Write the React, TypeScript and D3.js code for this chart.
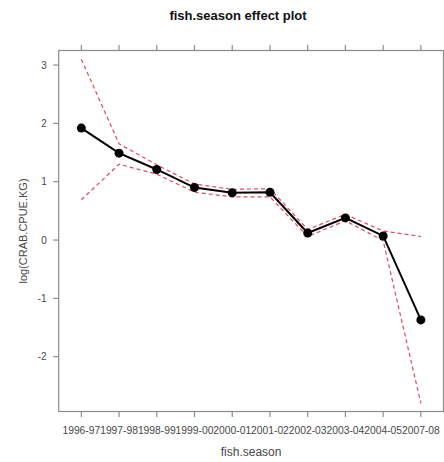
import { useEffect, useRef } from 'react'
import * as d3 from 'd3'

const seasons = ['1996-97', '1997-98', '1998-99', '1999-00', '2000-01', '2001-02', '2002-03', '2003-04', '2004-05', '2007-08']
const fitValues = [1.92, 1.49, 1.21, 0.9, 0.81, 0.82, 0.12, 0.38, 0.07, -1.37]
const upperValues = [3.1, 1.65, 1.29, 0.96, 0.87, 0.88, 0.18, 0.44, 0.155, 0.06]
const lowerValues = [0.69, 1.3, 1.13, 0.82, 0.74, 0.74, 0.06, 0.33, -0.01, -2.8]
const yTicks = [-2, -1, 0, 1, 2, 3]

export default function App() {
  const svgRef = useRef<SVGSVGElement>(null)
  const width = 444
  const height = 462

  useEffect(() => {
    if (!svgRef.current) return
    const svg = d3.select(svgRef.current)
    svg.selectAll('*').remove()

    const panel = { left: 58.7, right: 443.5, top: 50.5, bottom: 411.5 }
    const axisColor = '#8c8c8c'
    const textColor = '#474747'
    const font = 'Liberation Sans, Arial, sans-serif'

    const x = d3.scalePoint<string>()
      .domain(seasons)
      .range([panel.left, panel.right])
      .padding(0.6)

    const y = d3.scaleLinear()
      .domain([-2.94, 3.25])
      .range([panel.bottom, panel.top])

    // Title
    svg.append('text')
      .attr('x', 238)
      .attr('y', 19.5)
      .attr('text-anchor', 'middle')
      .style('font-family', font)
      .style('font-weight', 'bold')
      .style('font-size', '13px')
      .style('fill', '#111')
      .text('fish.season effect plot')

    // Panel border
    svg.append('rect')
      .attr('x', panel.left)
      .attr('y', panel.top)
      .attr('width', panel.right - panel.left)
      .attr('height', panel.bottom - panel.top)
      .style('fill', 'none')
      .style('stroke', axisColor)
      .style('stroke-width', '1.2px')

    // x ticks top and bottom
    seasons.forEach(s => {
      const xp = x(s) || 0
      svg.append('line')
        .attr('x1', xp).attr('x2', xp)
        .attr('y1', panel.top).attr('y2', panel.top - 5.5)
        .style('stroke', axisColor).style('stroke-width', '1.2px')
      svg.append('line')
        .attr('x1', xp).attr('x2', xp)
        .attr('y1', panel.bottom).attr('y2', panel.bottom + 5.5)
        .style('stroke', axisColor).style('stroke-width', '1.2px')
      svg.append('text')
        .attr('x', xp)
        .attr('y', panel.bottom + 22.5)
        .attr('text-anchor', 'middle')
        .style('font-family', font)
        .style('font-size', '10.3px')
        .style('fill', textColor)
        .text(s)
    })

    // y ticks
    yTicks.forEach(t => {
      svg.append('line')
        .attr('x1', panel.left).attr('x2', panel.left - 5.5)
        .attr('y1', y(t)).attr('y2', y(t))
        .style('stroke', axisColor).style('stroke-width', '1.2px')
      svg.append('text')
        .attr('x', panel.left - 12)
        .attr('y', y(t) + 3.5)
        .attr('text-anchor', 'end')
        .style('font-family', font)
        .style('font-size', '10px')
        .style('fill', textColor)
        .text(t)
    })

    // Axis titles
    svg.append('text')
      .attr('x', (panel.left + panel.right) / 2)
      .attr('y', 456)
      .attr('text-anchor', 'middle')
      .style('font-family', font)
      .style('font-size', '12px')
      .style('fill', textColor)
      .text('fish.season')

    svg.append('text')
      .attr('transform', `translate(27,${(panel.top + panel.bottom) / 2}) rotate(-90)`)
      .attr('text-anchor', 'middle')
      .style('font-family', font)
      .style('font-size', '11px')
      .style('fill', textColor)
      .text('log(CRAB.CPUE.KG)')

    const line = d3.line<number>()
      .x((_, i) => x(seasons[i]) || 0)
      .y(d => y(d))

    // Confidence bands
    ;[upperValues, lowerValues].forEach(vals => {
      svg.append('path')
        .datum(vals)
        .attr('d', line)
        .style('fill', 'none')
        .style('stroke', '#dd4a5e')
        .style('stroke-width', '1.2px')
        .style('stroke-dasharray', '4,3')
    })

    // Fit line
    svg.append('path')
      .datum(fitValues)
      .attr('d', line)
      .style('fill', 'none')
      .style('stroke', '#000')
      .style('stroke-width', '2px')

    svg.selectAll('.pt')
      .data(fitValues)
      .join('circle')
      .attr('cx', (_, i) => x(seasons[i]) || 0)
      .attr('cy', d => y(d))
      .attr('r', 4.5)
      .style('fill', '#000')
  }, [])

  return (
    <svg
      ref={svgRef}
      width={width}
      height={height}
      style={{ position: 'absolute', left: 0, top: 0, background: '#fff' }}
    />
  )
}
